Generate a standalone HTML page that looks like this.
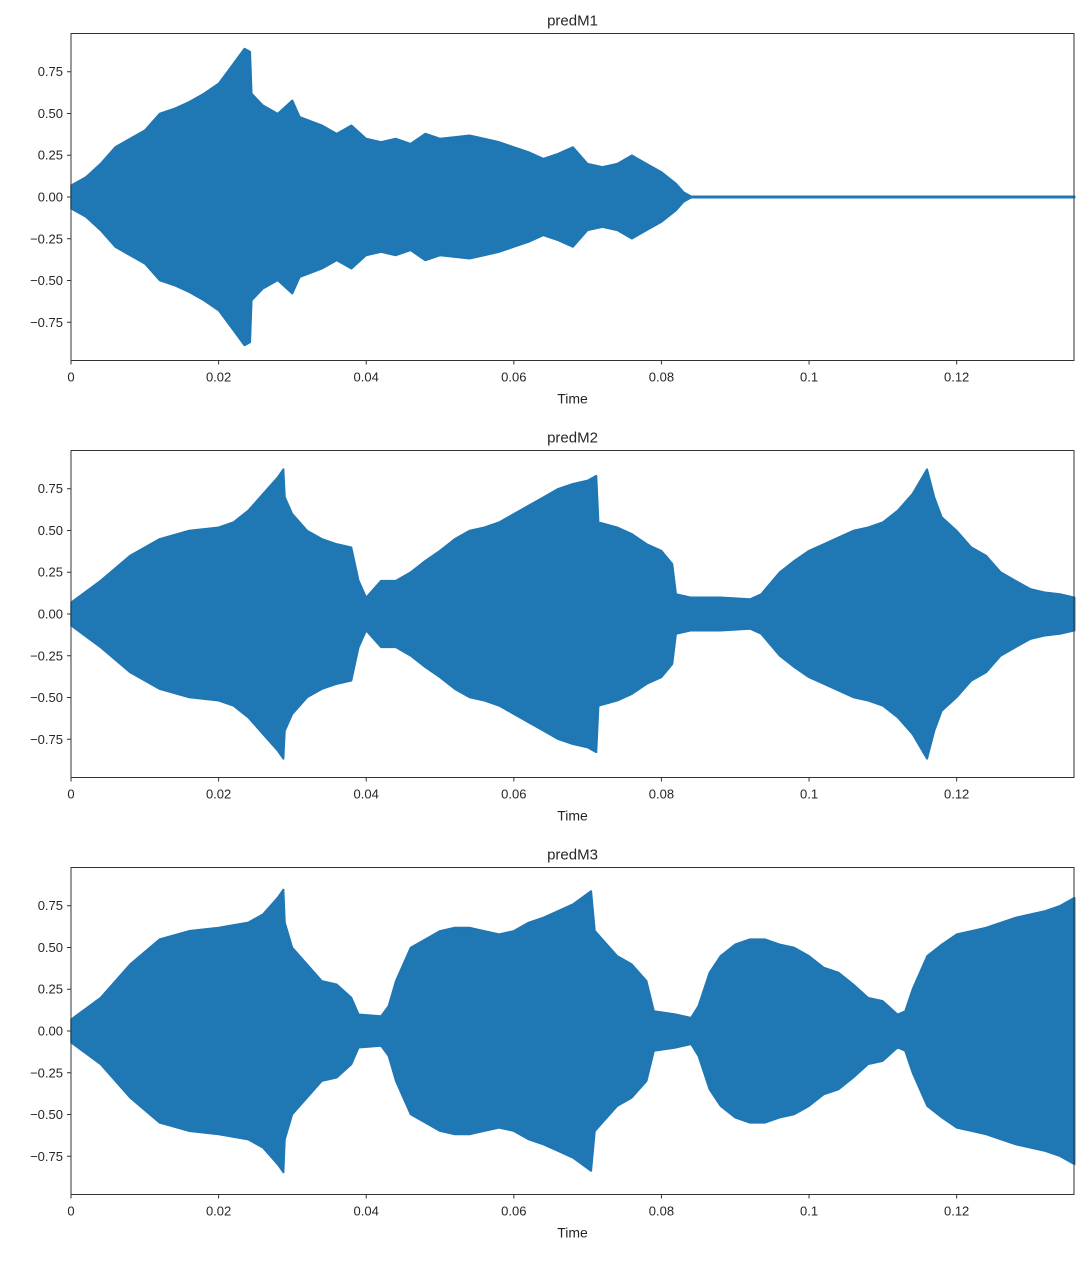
<!DOCTYPE html>
<html><head><meta charset="utf-8"><style>
body{margin:0;background:#fff;}
svg text{font-family:"Liberation Sans","DejaVu Sans",sans-serif;fill:#262626;}
</style></head><body>
<svg id="fig" width="1089" height="1258" viewBox="0 0 1089 1258" xmlns="http://www.w3.org/2000/svg"></svg>
<script>
const xTicks=[0,0.02,0.04,0.06,0.08,0.1,0.12];
const xTickLabels=["0","0.02","0.04","0.06","0.08","0.1","0.12"];
const yTicks=[0.75,0.5,0.25,0,-0.25,-0.5,-0.75];
const yTickLabels=["0.75","0.50","0.25","0.00","\u22120.25","\u22120.50","\u22120.75"];
const titles=["predM1","predM2","predM3"];
const times1=[0,.002,.004,.006,.008,.010,.012,.014,.016,.018,.020,.022,.0235,.0243,.0245,.026,.028,.030,.031,.034,.036,.038,.040,.042,.044,.046,.048,.050,.052,.054,.056,.058,.060,.062,.064,.066,.068,.070,.072,.074,.076,.078,.080,.082,.083,.084,.136];
const env1=[.07,.12,.2,.3,.35,.4,.5,.53,.57,.62,.68,.8,.89,.87,.62,.55,.5,.58,.48,.43,.38,.43,.35,.33,.35,.32,.38,.35,.36,.37,.35,.33,.3,.27,.23,.26,.3,.2,.18,.2,.25,.2,.15,.08,.03,.005,.005];
const times2=[0,.004,.008,.012,.016,.020,.022,.024,.026,.028,.0288,.029,.030,.032,.034,.036,.038,.039,.040,.041,.042,.044,.046,.048,.050,.052,.054,.056,.058,.060,.062,.064,.066,.068,.070,.0712,.0715,.074,.076,.078,.080,.0815,.082,.084,.088,.092,.0935,.096,.098,.100,.102,.104,.106,.108,.110,.112,.114,.116,.117,.118,.120,.122,.124,.126,.128,.130,.132,.134,.136];
const env2=[.07,.2,.35,.45,.5,.52,.55,.62,.72,.82,.87,.7,.6,.5,.45,.42,.4,.2,.1,.15,.2,.2,.25,.32,.38,.45,.5,.52,.55,.6,.65,.7,.75,.78,.8,.83,.55,.52,.48,.42,.38,.3,.12,.1,.1,.09,.12,.25,.32,.38,.42,.46,.5,.52,.55,.62,.72,.87,.7,.58,.5,.4,.35,.25,.2,.15,.13,.12,.1];
const times3=[0,.004,.008,.012,.016,.020,.024,.026,.028,.0288,.029,.030,.032,.034,.036,.038,.039,.042,.043,.044,.046,.048,.050,.052,.054,.056,.058,.060,.062,.064,.066,.068,.0705,.071,.072,.074,.076,.078,.079,.082,.084,.085,.0865,.088,.090,.092,.094,.096,.098,.100,.102,.104,.106,.108,.110,.112,.113,.114,.116,.118,.120,.122,.124,.126,.128,.130,.132,.134,.136];
const env3=[.07,.2,.4,.55,.6,.62,.65,.7,.8,.85,.65,.5,.4,.3,.28,.2,.1,.09,.15,.3,.5,.55,.6,.62,.62,.6,.58,.6,.65,.68,.72,.76,.84,.6,.55,.45,.4,.3,.12,.1,.08,.15,.35,.45,.52,.55,.55,.52,.5,.45,.38,.35,.28,.2,.18,.1,.12,.25,.45,.52,.58,.6,.62,.65,.68,.7,.72,.75,.8];
const series=[[times1,env1],[times2,env2],[times3,env3]];
const NS="http://www.w3.org/2000/svg";
const svg=document.getElementById('fig');
const L=71,R=1074,H=327,tops=[33.5,450.5,867.5],XMAX=0.1359,YMAX=0.979;
function mk(tag,attrs,parent){const e=document.createElementNS(NS,tag);for(const k in attrs)e.setAttribute(k,attrs[k]);(parent||svg).appendChild(e);return e;}
series.forEach((s,i)=>{
  const top=tops[i];
  const xs=t=>L+t/XMAX*(R-L);
  const ys=v=>top+H/2-v/YMAX*(H/2);
  const g=mk('g',{});
  
  
  const [ts,vs]=s;
  let pts=ts.map((t,k)=>xs(t).toFixed(1)+','+ys(vs[k]).toFixed(1));
  for(let k=ts.length-1;k>=0;k--)pts.push(xs(ts[k]).toFixed(1)+','+ys(-vs[k]).toFixed(1));
  const p=mk('polygon',{points:pts.join(' '),fill:'#1f77b4',stroke:'#1f77b4','stroke-width':1.5,'stroke-linejoin':'bevel'},g);
  
  
  const fr=mk('rect',{x:L,y:top,width:R-L,height:H,fill:'none',stroke:'#333','stroke-width':1},g);
  
  
  const tt=mk('text',{x:(L+R)/2,y:top-8,'text-anchor':'middle','font-size':15},g);
  tt.textContent=titles[i];
  
  
  xTicks.forEach((t,k)=>{
    mk('line',{x1:xs(t),x2:xs(t),y1:top+H,y2:top+H+4,stroke:'#333'},g);
    const tx=mk('text',{x:xs(t),y:top+H+21,'text-anchor':'middle','font-size':13},g);
    tx.textContent=xTickLabels[k];
    
    
  });
  yTicks.forEach((v,k)=>{
    mk('line',{x1:L-4,x2:L,y1:ys(v),y2:ys(v),stroke:'#333'},g);
    const ty=mk('text',{x:L-8,y:ys(v)+4.5,'text-anchor':'end','font-size':13},g);
    ty.textContent=yTickLabels[k];
    
    
  });
  const xl=mk('text',{x:(L+R)/2,y:top+H+43,'text-anchor':'middle','font-size':14},g);
  xl.textContent='Time';
  
  
});
</script>
</body></html>
